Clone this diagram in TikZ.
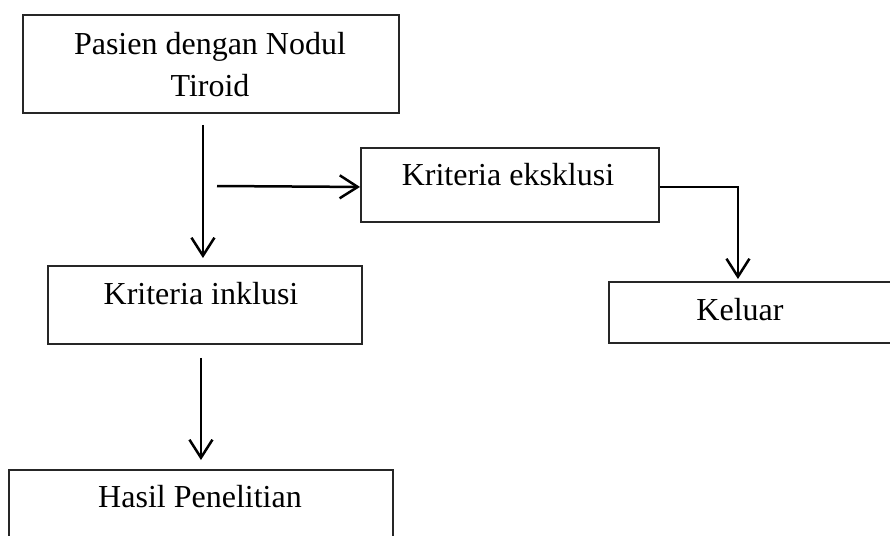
\documentclass[tikz,border=0pt]{standalone}
\usepackage{fontspec}
\setmainfont{Liberation Serif}
\usetikzlibrary{arrows.meta}
\begin{document}
\begin{tikzpicture}[x=1pt,y=-1pt,
  box/.style={draw=black!85, line width=1.9pt, inner sep=0pt, anchor=north west},
  lbl/.style={anchor=base, inner sep=0pt, font=\fontsize{32}{38}\selectfont},
  conn/.style={line width=2.5pt, -{Straight Barb[length=18pt,width=23pt]}}]
\useasboundingbox (0,0) rectangle (890,535);
\clip (0,0) rectangle (890,535);
% boxes
\node[box, minimum width=376pt, minimum height=98pt] (A) at (22,14) {};
\node[box, minimum width=298pt, minimum height=74pt] (E) at (360,147) {};
\node[box, minimum width=314pt, minimum height=78pt] (I) at (47,265) {};
\node[box, minimum width=320pt, minimum height=61pt] (K) at (608,281) {};
\node[box, minimum width=384pt, minimum height=100pt] (H) at (8,469) {};
% texts
\node[lbl] (tA1) at (210,54) {Pasien dengan Nodul};
\node[lbl] (tA2) at (210,96) {Tiroid};
\node[lbl] (tE) at (508,185) {Kriteria eksklusi};
\node[lbl] (tI) at (201,304) {Kriteria inklusi};
\node[lbl] (tK) at (740,320) {Keluar};
\node[lbl] (tH) at (200,507) {Hasil Penelitian};
% connectors
\coordinate (branch) at (217,186);
\draw[conn] ([yshift=-11pt,xshift=-2pt]A.south -| I.north) -- ([yshift=7pt,xshift=-2pt]I.north);
\draw[conn] (branch) -- ([yshift=-2pt]E.west);
\draw[conn] ([yshift=-2pt]E.east) -| ([xshift=-31pt,yshift=2pt]K.north);
\draw[conn] ([yshift=-13pt]I.south -| H.north) -- ([yshift=9pt]H.north);
\end{tikzpicture}
\end{document}
